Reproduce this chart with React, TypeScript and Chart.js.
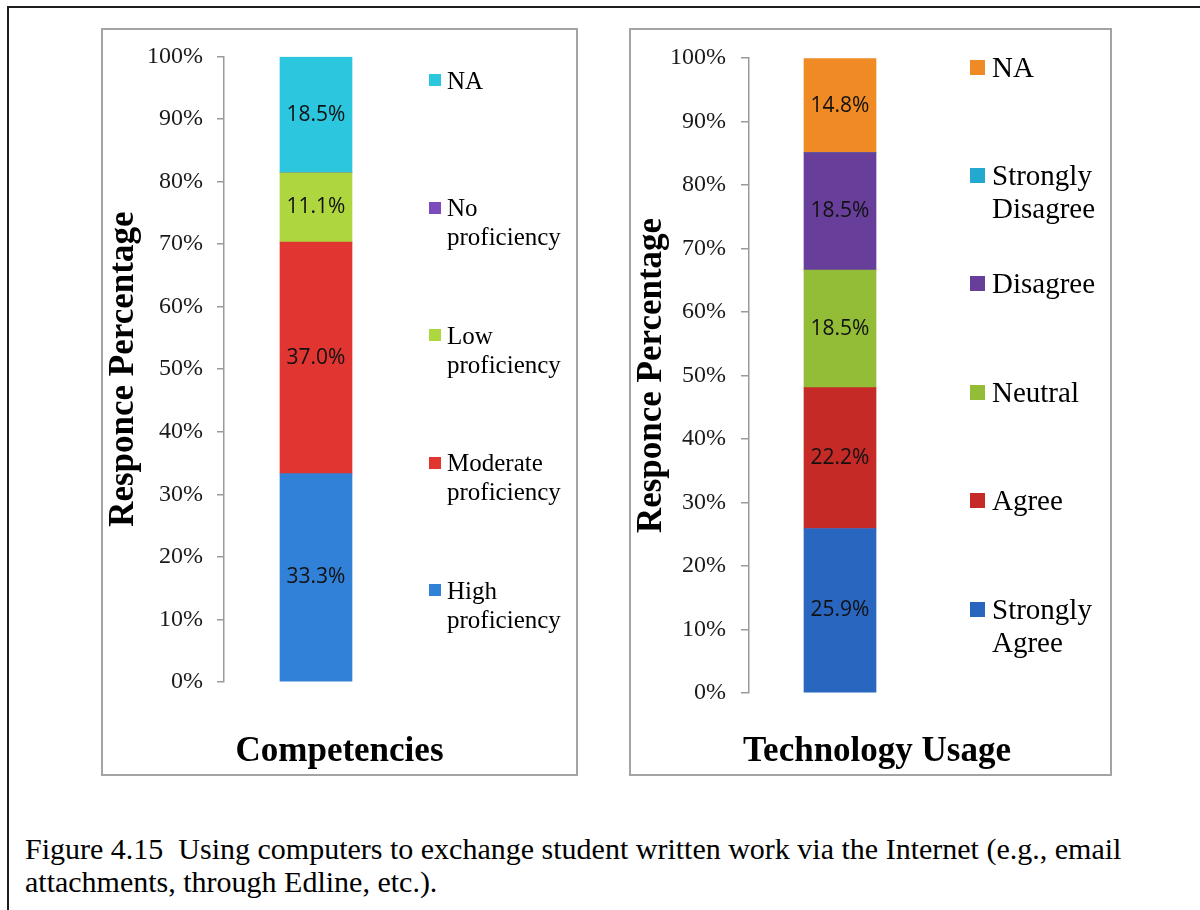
import React, { useEffect, useRef } from 'react';
import { Chart, registerables } from 'chart.js';

Chart.register(...registerables);

// ---------------- data ----------------
const compCategories = ['Competencies'];
const compSeries = ['High proficiency', 'Moderate proficiency', 'Low proficiency', 'No proficiency', 'NA'];
const compValues = [33.3, 37.0, 11.1, 0, 18.5];
const compColors = ['#3281D8', '#E03531', '#AED63F', '#7C4DBA', '#2CC6DF'];

const techCategories = ['Technology Usage'];
const techSeries = ['Strongly Agree', 'Agree', 'Neutral', 'Disagree', 'Strongly Disagree', 'NA'];
const techValues = [25.9, 22.2, 18.5, 18.5, 0, 14.8];
const techColors = ['#2966C0', '#C52A27', '#93BD36', '#673F9B', '#23A9CF', '#EF8A25'];

const yAxisTitle = 'Responce Percentage';
const yMin = 0;
const yMax = 100;
const yStep = 10;
const tickSuffix = '%';

const captionLines = [
  'Figure 4.15  Using computers to exchange student written work via the Internet (e.g., email',
  'attachments, through Edline, etc.).',
];

// ---------------- plugin: value labels ----------------
const valueLabels = {
  id: 'valueLabels',
  afterDatasetsDraw(chart: any) {
    const ctx = chart.ctx;
    ctx.save();
    ctx.font = '21px "Open Sans", "Noto Sans", sans-serif';
    ctx.fillStyle = '#111';
    ctx.textAlign = 'center';
    ctx.textBaseline = 'middle';
    chart.data.datasets.forEach((ds: any, i: number) => {
      const meta = chart.getDatasetMeta(i);
      meta.data.forEach((el: any, j: number) => {
        const v = ds.data[j];
        if (!v) return;
        const p = el.getProps(['x', 'y', 'base'], true);
        ctx.fillText(v.toFixed(1) + '%', p.x, (p.y + p.base) / 2);
      });
    });
    ctx.restore();
  },
};

type Cfg = {
  left: number;
  top: number;
  width: number;
  height: number;
  axisWidth: number;
  rightWidth: number;
  padTop: number;
  titlePadTop: number;
  tickLength: number;
  tickPadding: number;
};

function StackedChart(props: {
  categories: string[];
  series: string[];
  values: number[];
  colors: string[];
  cfg: Cfg;
}) {
  const ref = useRef<HTMLCanvasElement | null>(null);
  const { categories, series, values, colors, cfg } = props;

  useEffect(() => {
    if (!ref.current) return;
    const serif = '"Liberation Serif", "Times New Roman", serif';
    const chart = new Chart(ref.current, {
      type: 'bar',
      data: {
        labels: categories.map(() => ''),
        datasets: series.map((name, i) => ({
          label: name,
          data: [values[i]],
          backgroundColor: colors[i],
          borderWidth: 0,
          barThickness: 72,
        })),
      },
      options: {
        responsive: false,
        animation: false,
        devicePixelRatio: 1,
        layout: { padding: { top: cfg.padTop, left: 0, right: 0, bottom: 0 } },
        plugins: {
          legend: { display: false },
          tooltip: { enabled: false },
          title: {
            display: true,
            position: 'bottom',
            text: categories[0],
            color: '#000',
            font: { family: serif, size: 35, weight: 'bold' },
            padding: { top: cfg.titlePadTop, bottom: 3 },
          },
        },
        scales: {
          x: {
            stacked: true,
            display: false,
          },
          y: {
            stacked: true,
            min: yMin,
            max: yMax,
            position: 'left',
            afterFit: (s: any) => {
              s.width = cfg.axisWidth;
            },
            ticks: {
              stepSize: yStep,
              color: '#1a1a1a',
              padding: cfg.tickPadding,
              font: { family: serif, size: 24 },
              callback: (v: any) => v + tickSuffix,
            },
            grid: {
              display: true,
              drawOnChartArea: false,
              drawTicks: true,
              tickLength: cfg.tickLength,
              color: '#9a9a9a',
              lineWidth: 1.5,
            },
            border: { display: true, color: '#9a9a9a', width: 1.5 },
            title: {
              display: true,
              text: yAxisTitle,
              color: '#000',
              font: { family: serif, size: 35, weight: 'bold' },
              padding: { top: 2, bottom: 0 },
            },
          },
          spacer: {
            type: 'linear',
            position: 'right',
            display: true,
            afterFit: (s: any) => {
              s.width = cfg.rightWidth;
            },
            ticks: { display: false },
            grid: { display: false },
            border: { display: false },
          },
        },
      } as any,
      plugins: [valueLabels],
    });
    return () => chart.destroy();
  }, []);

  return (
    <canvas
      ref={ref}
      width={cfg.width}
      height={cfg.height}
      style={{ position: 'absolute', left: cfg.left, top: cfg.top, width: cfg.width, height: cfg.height }}
    />
  );
}

function Legend(props: {
  series: string[];
  colors: string[];
  sqX: number;
  sq: number;
  textX: number;
  textW: number;
  fontSize: number;
  lineH: number;
  firstY: number;
  step: number;
}) {
  const { series, colors, sqX, sq, textX, textW, fontSize, lineH, firstY, step } = props;
  const order = series.map((_, i) => i).reverse();
  return (
    <>
      {order.map((idx, k) => {
        const cy = firstY + k * step;
        return (
          <React.Fragment key={idx}>
            <div
              style={{
                position: 'absolute',
                left: sqX,
                top: cy - sq / 2,
                width: sq,
                height: sq,
                background: colors[idx],
              }}
            />
            <div
              style={{
                position: 'absolute',
                left: textX,
                top: cy - lineH / 2,
                width: textW,
                fontFamily: '"Liberation Serif", "Times New Roman", serif',
                fontSize,
                lineHeight: lineH + 'px',
                color: '#000',
              }}
            >
              {series[idx]}
            </div>
          </React.Fragment>
        );
      })}
    </>
  );
}

export default function App() {
  const boxBorder = '2px solid #a3a3a3';
  return (
    <div
      style={{
        position: 'absolute',
        left: 0,
        top: 0,
        width: 1200,
        height: 910,
        overflow: 'hidden',
        background: '#fff',
      }}
    >
      {/* outer frame */}
      <div
        style={{
          position: 'absolute',
          left: 7,
          top: 6,
          width: 1300,
          height: 1000,
          borderLeft: '2px solid #1e1e1e',
          borderTop: '2px solid #1e1e1e',
        }}
      />
      {/* chart boxes */}
      <div
        style={{
          position: 'absolute',
          left: 101,
          top: 28,
          width: 477,
          height: 748,
          border: boxBorder,
          boxSizing: 'border-box',
        }}
      />
      <div
        style={{
          position: 'absolute',
          left: 629,
          top: 28,
          width: 483,
          height: 748,
          border: boxBorder,
          boxSizing: 'border-box',
        }}
      />
      <StackedChart
        categories={compCategories}
        series={compSeries}
        values={compValues}
        colors={compColors}
        cfg={{
          left: 101,
          top: 28,
          width: 477,
          height: 748,
          axisWidth: 123,
          rightWidth: 170,
          padTop: 26,
          titlePadTop: 49,
          tickLength: 7,
          tickPadding: 14,
        }}
      />
      <StackedChart
        categories={techCategories}
        series={techSeries}
        values={techValues}
        colors={techColors}
        cfg={{
          left: 629,
          top: 28,
          width: 496,
          height: 748,
          axisWidth: 120,
          rightWidth: 194,
          padTop: 30,
          titlePadTop: 38,
          tickLength: 8,
          tickPadding: 15,
        }}
      />
      <Legend
        series={compSeries}
        colors={compColors}
        sqX={429}
        sq={12}
        textX={447}
        textW={128}
        fontSize={25}
        lineH={29}
        firstY={80}
        step={127.5}
      />
      <Legend
        series={techSeries}
        colors={techColors}
        sqX={970}
        sq={15}
        textX={992}
        textW={118}
        fontSize={29}
        lineH={33}
        firstY={67}
        step={108.4}
      />
      {/* caption */}
      <div
        style={{
          position: 'absolute',
          left: 25,
          top: 832,
          fontFamily: '"Liberation Serif", "Times New Roman", serif',
          fontSize: 30,
          lineHeight: '33px',
          color: '#000',
          whiteSpace: 'pre',
        }}
      >
        {captionLines.map((l, i) => (
          <div key={i}>{l}</div>
        ))}
      </div>
    </div>
  );
}
